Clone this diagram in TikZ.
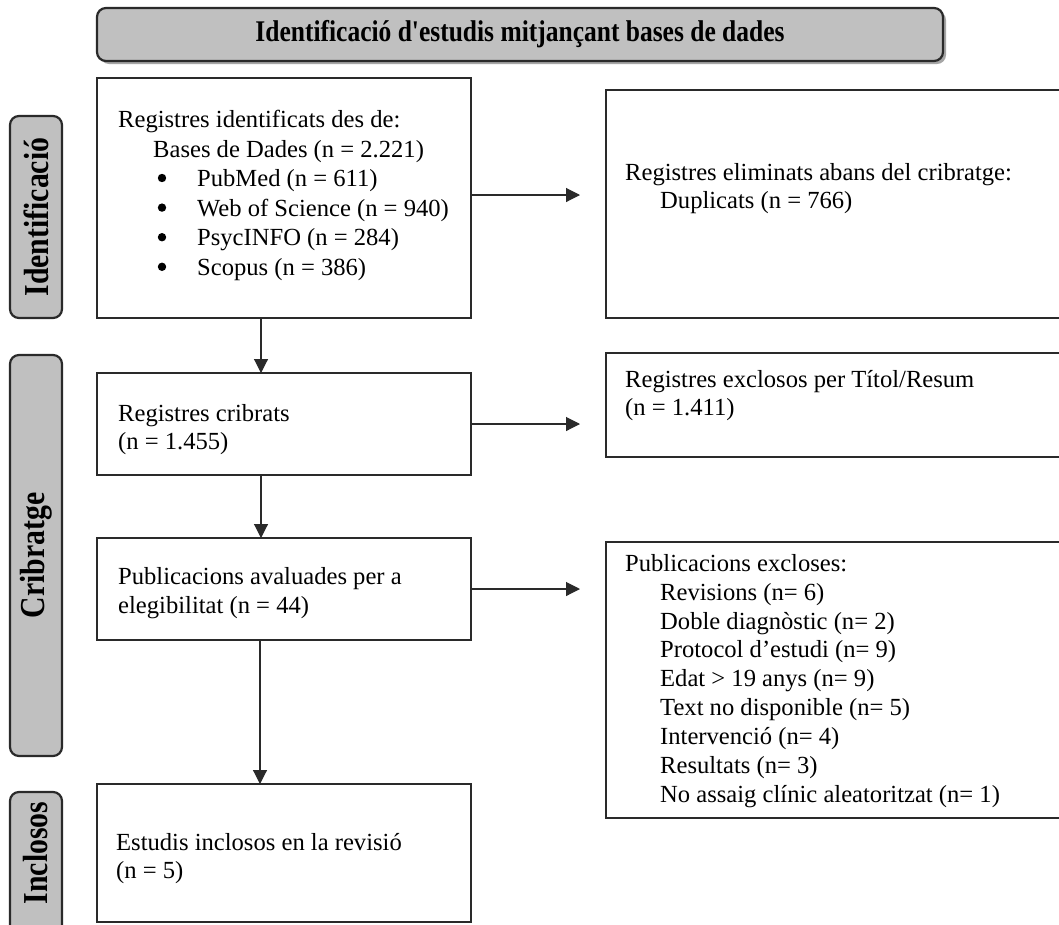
\documentclass[tikz,border=0pt]{standalone}
\usepackage{fontspec}
\setmainfont{Liberation Serif}
\usetikzlibrary{arrows.meta}
\definecolor{lgray}{HTML}{C0C0C0}
\definecolor{edge}{HTML}{2A2A2A}
\begin{document}
\begin{tikzpicture}[x=1pt,y=-1pt,
  box/.style={draw=edge,line width=1.8pt,anchor=north west,inner sep=0pt,outer sep=0pt},
  lbl/.style={draw=edge,line width=2.2pt,fill=lgray,rounded corners=9pt,inner sep=0pt,outer sep=0pt},
  lbltxt/.style={inner sep=0pt,font=\bfseries\fontsize{35}{38}\selectfont},
  txt/.style={anchor=north west,inner sep=0pt,align=left,font=\fontsize{24.6}{29}\selectfont},
  arr/.style={draw=edge,line width=1.1pt,-{Triangle[length=14pt,width=14pt]}},
  bul/.style={fill=black}
]
\clip (0,0) rectangle (1059,924);
\fill[white] (0,0) rectangle (1059,924);

% title
\fill[black!35, rounded corners=9pt] (100,11) rectangle (946,64);
\node[lbl, anchor=north west, minimum width=846pt, minimum height=53pt,
      font=\bfseries\fontsize{30}{32}\selectfont] (title) at (97,8)
      {\scalebox{0.85}[1]{Identificació d\textquotesingle estudis mitjançant bases de dades}};

% side labels
\node[lbl, lbltxt, rotate=90, minimum width=202pt, minimum height=52pt] (lid) at (36,217) {\scalebox{0.85}[1]{Identificació}};
\node[lbl, lbltxt, rotate=90, minimum width=401pt, minimum height=52pt] (lcr) at (36,555.5) {\scalebox{0.85}[1]{Cribratge}};
\node[lbl, rotate=90, minimum width=170pt, minimum height=52pt] (linc) at (36,877) {};
\node[lbltxt, rotate=90] (linct) at (36,853) {\scalebox{0.85}[1]{Inclosos}};

% boxes
\node[box, minimum width=374pt, minimum height=240pt] (b1) at (97,78) {};
\node[box, minimum width=470pt, minimum height=228pt] (r1) at (606,90) {};
\node[box, minimum width=374pt, minimum height=102pt] (b2) at (97,373) {};
\node[box, minimum width=470pt, minimum height=104pt] (r2) at (606,353) {};
\node[box, minimum width=374pt, minimum height=102pt] (b3) at (97,538) {};
\node[box, minimum width=470pt, minimum height=276pt] (r3) at (606,542) {};
\node[box, minimum width=374pt, minimum height=138pt] (b4) at (97,784) {};

% texts
\node[txt, font=\fontsize{24.6}{29.6}\selectfont] (t1) at (118,110) {Registres identificats des de:\\
\hspace*{35pt}Bases de Dades (n = 2.221)\\
\hspace*{79pt}PubMed (n = 611)\\
\hspace*{79pt}Web of Science (n = 940)\\
\hspace*{79pt}PsycINFO (n = 284)\\
\hspace*{79pt}Scopus (n = 386)};
\foreach \yy in {178,207.6,237.2,266.8} \fill[bul] (162,\yy) circle (4.2pt);
\node[txt, font=\fontsize{24.6}{28}\selectfont] (tr1) at (625,163) {Registres eliminats abans del cribratge:\\
\hspace*{35pt}Duplicats (n = 766)};
\node[txt, font=\fontsize{24.6}{28}\selectfont] (t2) at (118,404) {Registres cribrats\\(n = 1.455)};
\node[txt, font=\fontsize{24.6}{28}\selectfont] (tr2) at (625,370) {Registres exclosos per Títol/Resum\\(n = 1.411)};
\node[txt] (t3) at (118,567) {Publicacions avaluades per a\\elegibilitat (n = 44)};
\node[txt, font=\fontsize{24.6}{28.9}\selectfont] (tr3) at (625,554) {Publicacions excloses:\\
\hspace*{35pt}Revisions (n= 6)\\
\hspace*{35pt}Doble diagnòstic (n= 2)\\
\hspace*{35pt}Protocol d’estudi (n= 9)\\
\hspace*{35pt}Edat > 19 anys (n= 9)\\
\hspace*{35pt}Text no disponible (n= 5)\\
\hspace*{35pt}Intervenció (n= 4)\\
\hspace*{35pt}Resultats (n= 3)\\
\hspace*{35pt}No assaig clínic aleatoritzat (n= 1)};
\node[txt, font=\fontsize{24.6}{28}\selectfont] (t4) at (116,833) {Estudis inclosos en la revisió\\(n = 5)};

% arrows
\draw[arr, shorten >=26pt] ([yshift=3pt]b1.east) -- ([yshift=3pt]b1.east -| r1.west);
\draw[arr, shorten >=26pt] (b2.east) -- (b2.east -| r2.west);
\draw[arr, shorten >=26pt] (b3.east) -- (b3.east -| r3.west);
\draw[arr] ([xshift=-23pt]b1.south) -- ([xshift=-23pt]b2.north);
\draw[arr] ([xshift=-23pt]b2.south) -- ([xshift=-23pt]b3.north);
\draw[arr] ([xshift=-24pt]b3.south) -- ([xshift=-24pt]b4.north);
\end{tikzpicture}
\end{document}
